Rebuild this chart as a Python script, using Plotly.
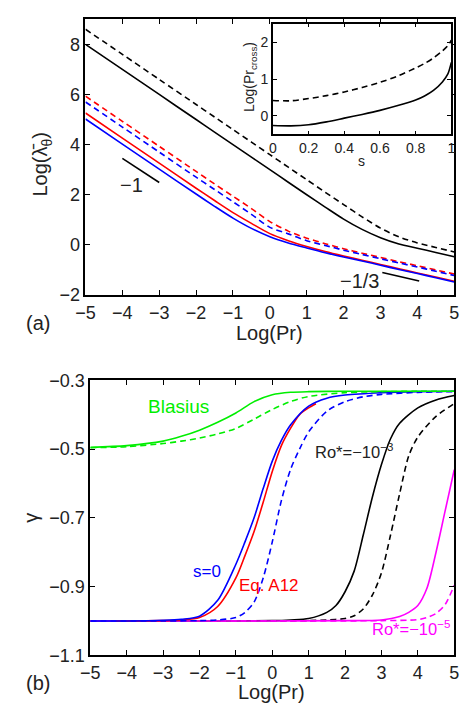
import plotly.graph_objects as go

W, H = 466, 712
FONT = "Liberation Sans, Arial, sans-serif"
TXT = "#222222"

# ---------------- panel (a): Log(lambda_theta) vs Log(Pr) ----------------
log_pr_a = [-5, -4, -3, -2, -1.5, -1, -0.5, 0, 0.5, 1, 1.5, 2, 2.5, 3, 3.5, 4, 4.5, 5]
lam_black_solid = [8.0, 7.0, 6.0, 5.0, 4.5, 4.0, 3.5, 3.0, 2.5, 2.0, 1.51, 1.03, 0.62, 0.29, 0.04, -0.13, -0.30, -0.47]
lam_black_dash = [8.6, 7.6, 6.6, 5.6, 5.1, 4.6, 4.1, 3.6, 3.1, 2.6, 2.1, 1.61, 1.12, 0.67, 0.32, 0.08, -0.10, -0.28]
lam_red_solid = [5.26, 4.26, 3.26, 2.26, 1.77, 1.29, 0.86, 0.45, 0.17, -0.06, -0.26, -0.44, -0.61, -0.78, -0.95, -1.12, -1.28, -1.45]
lam_blue_solid = [5.02, 4.02, 3.02, 2.03, 1.54, 1.07, 0.66, 0.33, 0.08, -0.12, -0.31, -0.48, -0.64, -0.81, -0.98, -1.14, -1.31, -1.48]
lam_red_dash = [5.93, 4.93, 3.93, 2.93, 2.43, 1.94, 1.45, 0.93, 0.55, 0.27, 0.05, -0.15, -0.33, -0.50, -0.67, -0.83, -1.00, -1.16]
lam_blue_dash = [5.70, 4.70, 3.70, 2.70, 2.21, 1.72, 1.22, 0.70, 0.44, 0.17, -0.02, -0.21, -0.38, -0.55, -0.72, -0.88, -1.05, -1.22]

# slope guides
guide1_x = [-4, -3]
guide1_y = [3.45, 2.49]
guide13_x = [3.05, 4.05]
guide13_y = [-1.10, -1.44]

# inset: Log(Pr_cross) vs s
s_vals = [0, 0.1, 0.2, 0.3, 0.4, 0.5, 0.6, 0.7, 0.8, 0.85, 0.9, 0.95, 0.98, 1.0]
prc_solid = [-0.26, -0.27, -0.24, -0.16, -0.06, 0.04, 0.15, 0.28, 0.43, 0.54, 0.69, 0.92, 1.13, 1.45]
prc_dash = [0.42, 0.41, 0.47, 0.55, 0.65, 0.77, 0.91, 1.08, 1.30, 1.42, 1.57, 1.76, 1.90, 2.05]

# ---------------- panel (b): gamma vs Log(Pr) ----------------
green_x = [-5, -4, -3, -2.5, -2, -1.5, -1, -0.5, 0, 0.5, 1, 2, 3, 4, 5]
green_solid = [-0.495, -0.49, -0.477, -0.463, -0.445, -0.422, -0.395, -0.362, -0.342, -0.335, -0.333, -0.332, -0.332, -0.332, -0.332]
green_dash = [-0.496, -0.493, -0.484, -0.477, -0.468, -0.456, -0.440, -0.413, -0.385, -0.362, -0.347, -0.336, -0.333, -0.332, -0.332]

blue_x = [-5, -4, -3, -2.5, -2, -1.5, -1, -0.75, -0.5, -0.25, 0, 0.25, 0.5, 1, 1.5, 2, 3, 4, 5]
blue_solid = [-1.0, -1.0, -0.998, -0.995, -0.986, -0.94, -0.835, -0.77, -0.70, -0.615, -0.535, -0.475, -0.43, -0.375, -0.352, -0.343, -0.336, -0.333, -0.332]

red_x = [-4.3, -4, -3, -2.5, -2, -1.5, -1, -0.75, -0.5, -0.25, 0, 0.25, 0.5, 0.75, 1, 1.2]
red_solid = [-1.0, -1.0, -0.999, -0.997, -0.99, -0.958, -0.875, -0.81, -0.74, -0.655, -0.565, -0.49, -0.44, -0.40, -0.38, -0.368]

blue_dash_x = [-5, -3, -2, -1.5, -1, -0.75, -0.5, -0.25, 0, 0.25, 0.5, 0.75, 1, 1.5, 2, 2.5, 3, 4, 5]
blue_dash = [-1.0, -1.0, -0.999, -0.997, -0.99, -0.975, -0.945, -0.875, -0.77, -0.65, -0.56, -0.50, -0.45, -0.39, -0.362, -0.348, -0.341, -0.335, -0.333]

black_x = [-5, -1, 0, 0.5, 1, 1.5, 1.75, 2, 2.25, 2.5, 2.75, 3, 3.25, 3.5, 4, 4.5, 5]
black_solid = [-1.0, -1.0, -0.999, -0.997, -0.993, -0.975, -0.955, -0.915, -0.855, -0.75, -0.64, -0.545, -0.47, -0.425, -0.38, -0.357, -0.344]

black_dash_x = [-5, 0, 1, 1.5, 2, 2.25, 2.5, 2.75, 3, 3.25, 3.5, 3.75, 4, 4.5, 5]
black_dash = [-1.0, -1.0, -0.999, -0.997, -0.993, -0.985, -0.965, -0.925, -0.86, -0.75, -0.63, -0.52, -0.465, -0.405, -0.368]

mag_x = [-5, 0, 2, 3, 3.5, 3.75, 4, 4.25, 4.5, 4.75, 5]
mag_solid = [-1.0, -1.0, -0.999, -0.997, -0.987, -0.975, -0.955, -0.905, -0.80, -0.68, -0.56]
mag_dash_x = [-5, 0, 3, 4, 4.25, 4.5, 4.75, 5]
mag_dash = [-1.0, -1.0, -0.999, -0.996, -0.99, -0.978, -0.952, -0.896]

BLACK, RED, BLUE, GREEN, MAGENTA = "#000000", "#ff0000", "#0000ff", "#00ee00", "#ff00ff"
DASH = "6px,4px"
LW = 1.6

fig = go.Figure()


def add(x, y, color, dash="solid", xa="x", ya="y", width=LW, shape="spline"):
    fig.add_trace(go.Scatter(
        x=x, y=y, mode="lines", xaxis=xa, yaxis=ya, showlegend=False,
        hoverinfo="skip",
        line=dict(color=color, width=width, dash=dash, shape=shape,
                  smoothing=0.8 if shape == "spline" else None),
    ))


# panel (a)
add(log_pr_a, lam_black_solid, BLACK)
add(log_pr_a, lam_black_dash, BLACK, DASH)
add(log_pr_a, lam_red_dash, RED, DASH)
add(log_pr_a, lam_blue_dash, BLUE, DASH)
add(log_pr_a, lam_red_solid, RED)
add(log_pr_a, lam_blue_solid, BLUE)
add(guide1_x, guide1_y, BLACK, shape="linear")
add(guide13_x, guide13_y, BLACK, shape="linear")

# inset
add(s_vals, prc_solid, BLACK, xa="x3", ya="y3")
add(s_vals, prc_dash, BLACK, DASH, xa="x3", ya="y3")

# panel (b)
add(black_x, black_solid, BLACK, xa="x2", ya="y2")
add(black_dash_x, black_dash, BLACK, DASH, xa="x2", ya="y2")
add(mag_x, mag_solid, MAGENTA, xa="x2", ya="y2")
add(mag_dash_x, mag_dash, MAGENTA, DASH, xa="x2", ya="y2")
add(red_x, red_solid, RED, xa="x2", ya="y2")
add(blue_x, blue_solid, BLUE, xa="x2", ya="y2")
add(blue_dash_x, blue_dash, BLUE, DASH, xa="x2", ya="y2")
add(green_x, green_solid, GREEN, xa="x2", ya="y2")
add(green_x, green_dash, GREEN, DASH, xa="x2", ya="y2")


def px_x(px):
    return px / W


def px_y(py):
    return 1 - py / H


axis_common = dict(
    showline=True, linecolor="black", linewidth=1.7, mirror="ticks",
    ticks="inside", ticklen=5, tickwidth=1.2, tickcolor="black",
    showgrid=False, zeroline=False,
    tickfont=dict(family=FONT, size=18, color=TXT),
)
inset_common = dict(axis_common, ticklen=4, tickfont=dict(family=FONT, size=14, color=TXT))

fig.update_layout(
    width=W, height=H,
    margin=dict(l=0, r=0, t=0, b=0),
    paper_bgcolor="white", plot_bgcolor="white",
    font=dict(family=FONT, color=TXT),
    xaxis=dict(axis_common, domain=[px_x(78), px_x(459)], range=[-5, 5],
               tickvals=list(range(-5, 6)), anchor="y"),
    yaxis=dict(axis_common, domain=[px_y(293.3), px_y(9.5)], range=[-2, 9],
               tickvals=[-2, 0, 2, 4, 6, 8], anchor="x"),
    xaxis2=dict(axis_common, domain=[px_x(83), px_x(459)], range=[-5, 5],
                tickvals=list(range(-5, 6)), anchor="y2"),
    yaxis2=dict(axis_common, domain=[px_y(664), px_y(381)], range=[-1.1, -0.3],
                tickvals=[-1.1, -0.9, -0.7, -0.5, -0.3], anchor="x2"),
    xaxis3=dict(inset_common, domain=[px_x(271.7), px_x(456)], range=[0, 1],
                tickvals=[0, 0.2, 0.4, 0.6, 0.8, 1], anchor="y3"),
    yaxis3=dict(inset_common, domain=[px_y(128), px_y(14)], range=[-0.5, 2.5],
                tickvals=[0, 1, 2], anchor="x3"),
)

# white backdrop for the inset
fig.add_shape(type="rect", xref="paper", yref="paper",
              x0=px_x(271.7), x1=px_x(456), y0=px_y(128), y1=px_y(14),
              fillcolor="white", line=dict(width=0), layer="below")

ann = []


def label(text, x, y, xref="paper", yref="paper", size=20, color=TXT, angle=0,
          xanchor="center", yanchor="middle"):
    ann.append(dict(text=text, x=x, y=y, xref=xref, yref=yref, showarrow=False,
                    textangle=angle, xanchor=xanchor, yanchor=yanchor,
                    font=dict(family=FONT, size=size, color=color)))


# axis titles and panel tags
label("Log(Pr)", px_x(268), px_y(332))
label("Log(Pr)", px_x(270), px_y(702))
label("Log(\u03bb\u0304<sub>\u03b8</sub>)", px_x(33), px_y(158), angle=-90)
label("\u03b3", px_x(22), px_y(522), angle=-90)
label("(a)", px_x(29), px_y(322))
label("(b)", px_x(29), px_y(692))

# inset titles
label("Log(Pr<sub>cross</sub>)", px_x(248), px_y(69), size=14, angle=-90)
label("s", px_x(363), px_y(155), size=14)

# slope labels in panel (a)
label("\u22121", -3.74, 2.39, xref="x", yref="y")
label("\u22121/3", 2.44, -1.42, xref="x", yref="y")

# curve labels in panel (b)
label("Blasius", -2.58, -0.376, xref="x2", yref="y2", size=19, color=GREEN)
label("Ro*=\u221210<sup>\u22123</sup>", 1.12, -0.505, xref="x2", yref="y2",
      size=16.5, xanchor="left")
label("s=0", -1.79, -0.857, xref="x2", yref="y2", size=17, color=BLUE)
label("Eq. A12", -0.09, -0.896, xref="x2", yref="y2", size=17, color=RED)
label("Ro*=\u221210<sup>\u22125</sup>", 2.68, -1.02, xref="x2", yref="y2",
      size=16.5, xanchor="left", color=MAGENTA)

fig.update_layout(annotations=ann)

fig.write_html("out.html")
